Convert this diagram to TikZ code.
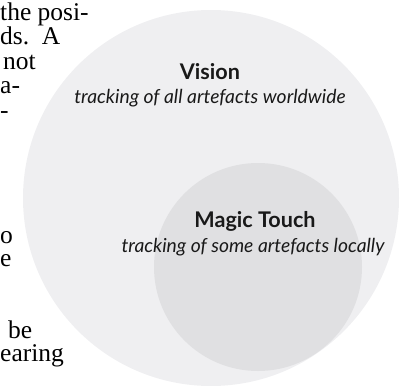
\documentclass[tikz,border=0pt]{standalone}
\usepackage{fontspec}
\setmainfont{Liberation Serif}
\newfontfamily\labelfont{Lato}
\definecolor{outerc}{RGB}{239,239,241}
\definecolor{innerc}{RGB}{224,224,226}
\definecolor{txtc}{RGB}{25,25,25}
\begin{document}
\begin{tikzpicture}[x=1pt,y=-1pt,
  title/.style={font=\labelfont\bfseries\fontsize{21.6}{24}\selectfont, text=txtc, inner sep=0pt, anchor=base},
  sub/.style={font=\labelfont\itshape\fontsize{19.3}{22}\selectfont, text=txtc, inner sep=0pt, anchor=base},
  body/.style={font=\fontsize{25.5}{27}\selectfont, inner sep=0pt, anchor=base west}]
\useasboundingbox (0,0) rectangle (406,385);
% body text fragments
\node[body] (l1) at (0,21) {the posi-};
\node[body] (l2) at (0,45) {ds.\ \ A};
\node[body] (l3) at (3,70) {not};
\node[body] (l4) at (0,93) {a-};
\node[body] (l5) at (0,118) {-};
\node[body] (l6) at (0,243) {o};
\node[body] (l7) at (0,266) {e};
\node[body] (l8) at (8,338) {be};
\node[body] (l9) at (0,361) {earing};
% circles
\fill[outerc] (211,198) circle[radius=188pt];
\fill[innerc] (258,267) circle[radius=104pt];
% labels
\node[title] (vis) at (210,80) {Vision};
\node[sub] (visd) at (210,103) {tracking of all artefacts worldwide};
\node[title] (mt) at (255,227) {Magic Touch};
\node[sub] (mtd) at (253,252) {tracking of some artefacts locally};
\end{tikzpicture}
\end{document}
